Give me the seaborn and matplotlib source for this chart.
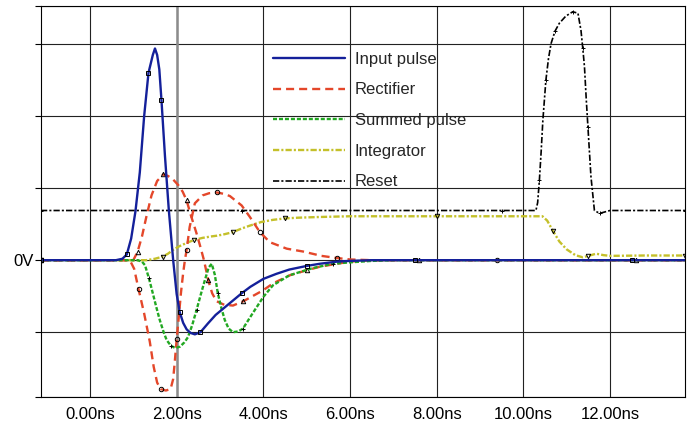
import matplotlib
matplotlib.use('Agg')
import matplotlib.pyplot as plt
import seaborn as sns

# --- valores (tempo em ns, tensao em divisoes) ---
t_input = [-1.13, -0.5, 0.0, 0.6, 0.75, 0.85, 0.95, 1.05, 1.15, 1.25, 1.35, 1.45, 1.5, 1.55,
           1.6, 1.65, 1.73, 1.82, 1.92, 2.0, 2.07, 2.15, 2.23, 2.32, 2.42, 2.55, 2.72,
           2.9, 3.1, 3.3, 3.5, 3.7, 4.0, 4.3, 4.6, 5.0, 5.3, 5.7, 6.0, 6.5, 7.5, 8.5,
           9.5, 10.5, 11.5, 12.5, 13.73]
v_input = [0, 0, 0, 0, 0.02, 0.08, 0.3, 0.68, 1.22, 2.0, 2.6, 2.85, 2.94, 2.85,
           2.65, 2.22, 1.45, 0.69, 0.0, -0.47, -0.72, -0.87, -0.96, -1.01, -1.03, -1.0, -0.88,
           -0.76, -0.66, -0.56, -0.46, -0.37, -0.26, -0.19, -0.13, -0.08, -0.05, -0.02, -0.01, 0, 0, 0,
           0, 0, 0, 0, 0]

t_rect_a = [-1.13, -0.4, 0.4, 0.9, 1.0, 1.1, 1.2, 1.3, 1.42, 1.55, 1.69, 1.8, 1.92, 2.04,
            2.14, 2.23, 2.33, 2.46, 2.55, 2.63, 2.73, 2.82, 2.92, 3.1, 3.3, 3.54, 3.75,
            3.99, 4.23, 4.61, 5.0, 5.31, 5.7, 6.0, 6.5, 7.6, 8.6, 9.6, 10.6, 11.6, 12.6, 13.73]
v_rect_a = [0, 0, 0, 0, 0.0, 0.12, 0.33, 0.6, 0.9, 1.1, 1.19, 1.17, 1.12, 1.04,
            0.95, 0.83, 0.62, 0.37, 0.18, 0.0, -0.28, -0.46, -0.57, -0.62, -0.63, -0.57, -0.5,
            -0.42, -0.32, -0.21, -0.14, -0.09, -0.05, -0.02, 0, 0, 0, 0, 0, 0, 0, 0]

t_rect_b = [-1.13, -0.3, 0.5, 0.92, 1.02, 1.12, 1.25, 1.38, 1.47, 1.55, 1.63, 1.75, 1.86,
            1.92, 1.96, 2.0, 2.04, 2.1, 2.15, 2.19, 2.23, 2.3, 2.42, 2.6, 2.75, 2.93, 3.1,
            3.23, 3.5, 3.69, 3.92, 4.15, 4.54, 4.92, 5.34, 5.7, 6.0, 6.5, 7.4, 8.4, 9.4,
            10.4, 11.4, 12.4, 13.73]
v_rect_b = [0, 0, 0, 0, -0.12, -0.4, -0.74, -1.13, -1.48, -1.7, -1.79, -1.81, -1.79,
            -1.65, -1.39, -1.1, -0.85, -0.45, -0.18, 0.0, 0.14, 0.46, 0.79, 0.9, 0.93, 0.94, 0.92,
            0.89, 0.76, 0.6, 0.39, 0.25, 0.16, 0.12, 0.06, 0.03, 0.01, 0, 0, 0, 0,
            0, 0, 0, 0]

t_summed = [-1.13, -0.2, 0.7, 1.1, 1.2, 1.27, 1.36, 1.45, 1.53, 1.61, 1.7, 1.77, 1.87, 1.97,
            2.08, 2.18, 2.26, 2.36, 2.46, 2.56, 2.65, 2.74, 2.81, 2.88, 2.95, 3.03, 3.11,
            3.2, 3.3, 3.42, 3.53, 3.73, 4.0, 4.22, 4.6, 5.14, 5.6, 6.0, 6.5, 7.0, 8.0,
            9.0, 10.0, 11.0, 12.0, 13.0, 13.73]
v_summed = [0, 0, 0, 0, -0.02, -0.07, -0.25, -0.46, -0.65, -0.83, -1.0, -1.11, -1.19, -1.22,
            -1.2, -1.14, -1.07, -0.9, -0.69, -0.47, -0.28, -0.1, -0.05, -0.2, -0.46, -0.66, -0.83,
            -0.95, -1.0, -0.99, -0.95, -0.76, -0.51, -0.35, -0.21, -0.11, -0.05, -0.03, -0.01, 0, 0,
            0, 0, 0, 0, 0, 0]

t_integ = [-1.13, -0.2, 0.6, 1.3, 1.5, 1.68, 1.8, 1.91, 2.05, 2.23, 2.4, 2.6, 2.8, 2.93,
           3.1, 3.3, 3.5, 3.69, 3.95, 4.22, 4.5, 4.8, 5.3, 6.0, 7.0, 8.0, 9.0, 10.0, 10.44,
           10.55, 10.68, 10.83, 11.0, 11.2, 11.37, 11.5, 11.68, 11.85, 12.0, 12.8, 13.73]
v_integ = [0, 0, 0, 0, 0.02, 0.05, 0.09, 0.14, 0.19, 0.24, 0.28, 0.31, 0.33, 0.34,
           0.36, 0.39, 0.44, 0.48, 0.53, 0.56, 0.58, 0.59, 0.6, 0.61, 0.61, 0.61, 0.61, 0.61, 0.61,
           0.55, 0.41, 0.26, 0.15, 0.07, 0.04, 0.06, 0.09, 0.07, 0.06, 0.065, 0.065]

t_reset = [-1.13, -0.2, 1.5, 3.5, 5.5, 7.5, 9.5, 10.29, 10.33, 10.37, 10.41, 10.45, 10.52,
           10.58, 10.64, 10.73, 10.83, 10.98, 11.14, 11.26, 11.33, 11.37, 11.41, 11.45,
           11.49, 11.56, 11.64, 11.76, 12.0, 13.0, 13.73]
v_reset = [0.69, 0.69, 0.69, 0.69, 0.69, 0.69, 0.69, 0.69, 0.8, 1.11, 1.5, 1.94, 2.5,
           2.8, 3.01, 3.18, 3.29, 3.39, 3.45, 3.43, 3.19, 2.95, 2.69, 2.25,
           1.85, 1.16, 0.69, 0.65, 0.69, 0.69, 0.69]

x_ticks = [0, 2, 4, 6, 8, 10, 12]
y_ticks = [-1.9, -1, 0, 1, 2, 3, 3.53]

sns.set_style('white')
plt.rcParams['font.family'] = ['Liberation Sans', 'DejaVu Sans']
plt.rcParams['lines.scale_dashes'] = False

fig = plt.figure(figsize=(6.93, 4.24), dpi=100)
ax = fig.add_axes([41 / 693, 27 / 424, 644 / 693, 391 / 424])

# grade preta e cursor cinza em 2 ns
for t in x_ticks:
    ax.axvline(t, color='#222222', lw=0.8, zorder=1)
for v in y_ticks:
    ax.axhline(v, color='#222222', lw=0.8, zorder=1)
ax.axvline(2, color='#8c8c8c', lw=1.8, zorder=1.5)

marca = dict(markersize=3.2, markeredgecolor='black', markerfacecolor='none', markeredgewidth=0.7)

sns.lineplot(x=t_reset, y=v_reset, ax=ax, color='black', lw=1.2, dashes=(4.5, 1.5, 1.5, 1.5),
             marker='+', markevery=3, label='Reset', errorbar=None, sort=False, **marca)
sns.lineplot(x=t_integ, y=v_integ, ax=ax, color='#c4c02a', lw=1.7, dashes=(4.5, 1.5, 1.5, 1.5),
             marker='v', markevery=5, label='Integrator', errorbar=None, sort=False, **marca)
sns.lineplot(x=t_rect_b, y=v_rect_b, ax=ax, color='#e4472a', lw=1.7, dashes=(5.8, 3.6),
             marker='o', markevery=5, errorbar=None, sort=False, **marca)
sns.lineplot(x=t_rect_a, y=v_rect_a, ax=ax, color='#e4472a', lw=1.7, dashes=(5.8, 3.6),
             marker='^', markevery=5, label='Rectifier', errorbar=None, sort=False, **marca)
sns.lineplot(x=t_summed, y=v_summed, ax=ax, color='#22a822', lw=1.7, dashes=(2.9, 1.4),
             marker='+', markevery=6, label='Summed pulse', errorbar=None, sort=False, **marca)
sns.lineplot(x=t_input, y=v_input, ax=ax, color='#14209a', lw=1.7,
             marker='s', markevery=5, label='Input pulse', errorbar=None, sort=False, **marca)

ax.set_xlim(-1.13, 13.73)
ax.set_ylim(-1.9, 3.53)
ax.set_xticks(x_ticks)
ax.set_xticklabels([f'{t:.2f}ns' for t in x_ticks])
ax.set_yticks(y_ticks)
ax.set_yticklabels(['0V' if v == 0 else '' for v in y_ticks])
ax.tick_params(axis='x', length=0, pad=7, labelsize=12, colors='black')
ax.tick_params(axis='y', length=4, width=0.8, pad=1, labelsize=12, colors='black', left=True)
for s in ax.spines.values():
    s.set_color('black')
    s.set_linewidth(0.8)

handles, labels = ax.get_legend_handles_labels()
ordem = ['Input pulse', 'Rectifier', 'Summed pulse', 'Integrator', 'Reset']
h_ord = [handles[labels.index(n)] for n in ordem]
leg = ax.legend(h_ord, ordem, loc='upper left', bbox_to_anchor=(0.36, 0.883), frameon=False,
                fontsize=12, handlelength=4.3, handletextpad=0.6, labelspacing=0.94,
                borderaxespad=0, borderpad=0)
for linha in leg.get_lines():
    linha.set_marker('None')

fig.savefig('out.png', dpi=100, facecolor='white')
